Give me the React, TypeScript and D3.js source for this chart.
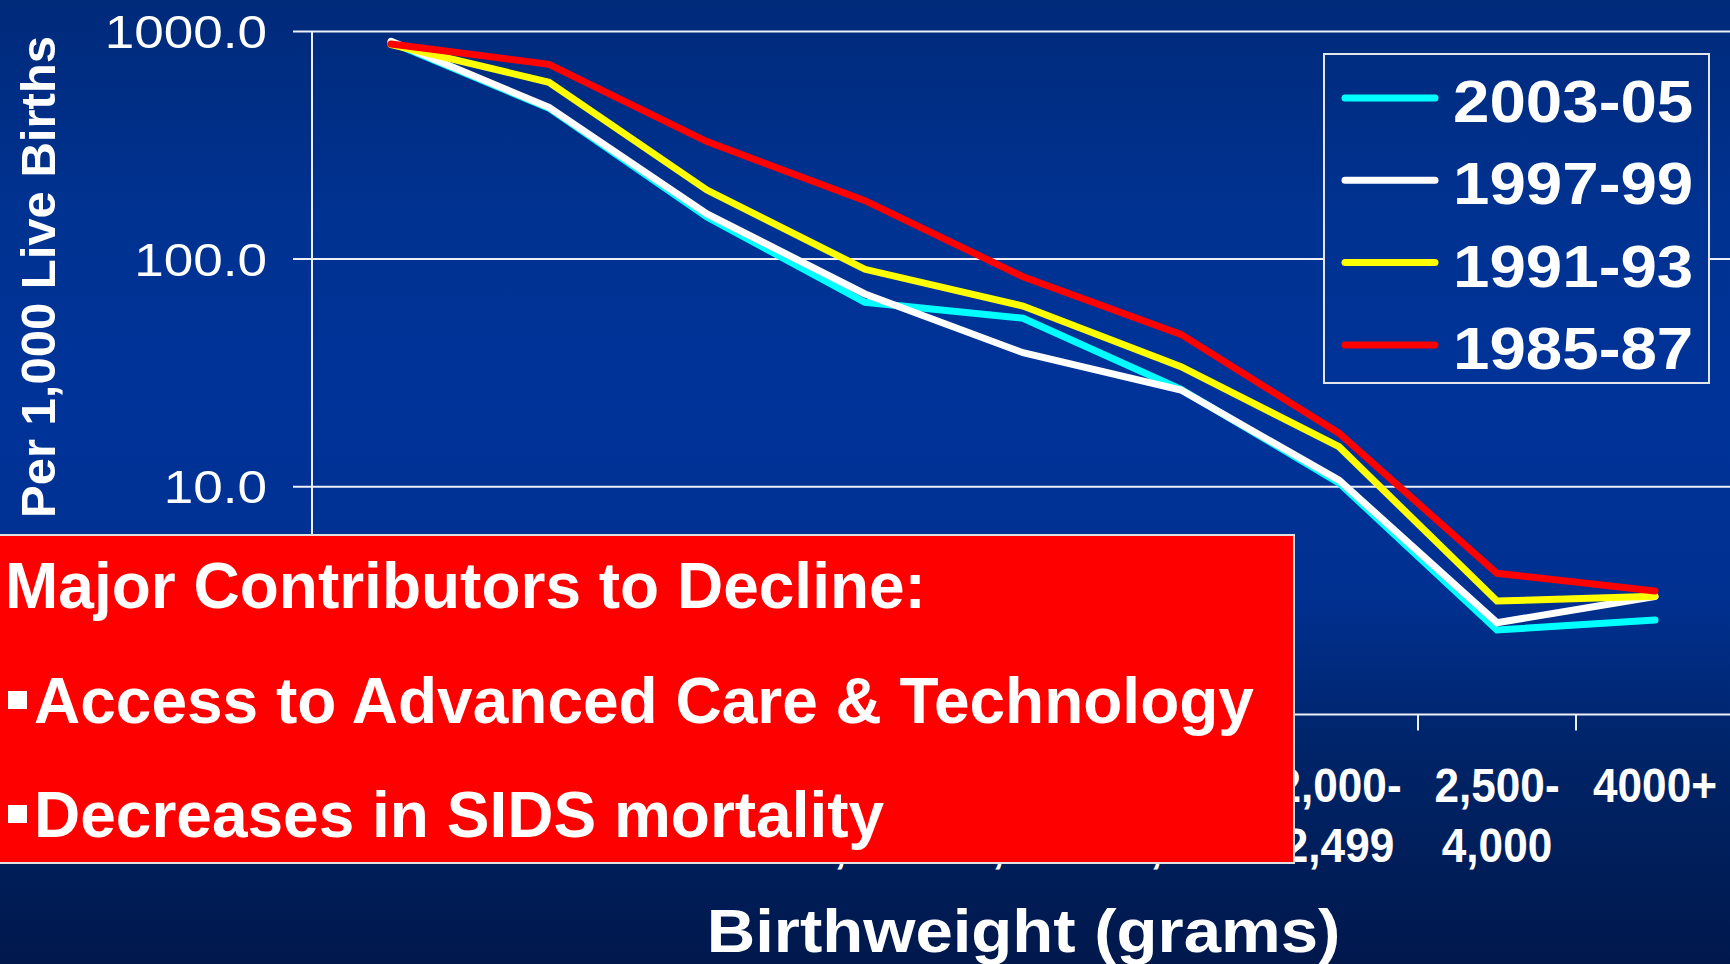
import React from "react";
import * as d3 from "d3";

const categories = [
  "<500",
  "500-\n749",
  "750-\n999",
  "1,000-\n1,249",
  "1,250-\n1,499",
  "1,500-\n1,999",
  "2,000-\n2,499",
  "2,500-\n4,000",
  "4000+",
];

const seriesNames = ["2003-05", "1997-99", "1991-93", "1985-87"];
const seriesColors = ["#00ffff", "#ffffff", "#ffff00", "#ff0000"];

const values2003 = [895, 460, 153, 64.6, 55, 26.8, 10.4, 2.35, 2.6];
const values1997 = [905, 464, 158, 70.3, 38.8, 26.6, 10.7, 2.53, 3.3];
const values1991 = [875, 598, 201, 90.2, 62.2, 33.7, 15.0, 3.15, 3.31];
const values1985 = [880, 717, 328, 180.5, 83.7, 46.7, 17.2, 4.17, 3.49];

const yTicks = [1, 10, 100, 1000];
const yTickLabels = ["1.0", "10.0", "100.0", "1000.0"];

const boxTitle = "Major Contributors to Decline:";
const boxBullets = ["Access to Advanced Care & Technology", "Decreases in SIDS mortality"];

const xTitle = "Birthweight (grams)";
const yTitle = "Per 1,000 Live Births";

const W = 1730;
const H = 964;
const FONT = "'Liberation Sans', Arial, Helvetica, sans-serif";

export default function App() {
  const allSeries = [values2003, values1997, values1991, values1985];

  const x = d3.scaleBand<string>().domain(categories).range([312, 1734]).paddingInner(0).paddingOuter(0);
  const y = d3.scaleLog().domain([1, 1000]).range([714.5, 31.4]);
  const cx = (c: string) => (x(c) as number) + x.bandwidth() / 2;

  const line = d3
    .line<number>()
    .x((_, i) => cx(categories[i]))
    .y((v) => y(v));

  const boundaries = categories
    .map((c) => x(c) as number)
    .concat([(x(categories[categories.length - 1]) as number) + x.bandwidth()]);

  const plotLeft = 312;
  const gridColor = "#eef0f6";

  // draw order: cyan, white, yellow, red (red on top)
  const drawOrder = [0, 1, 2, 3];

  return (
    <svg
      width={W}
      height={H}
      viewBox={`0 0 ${W} ${H}`}
      style={{ position: "fixed", left: 0, top: 0, display: "block" }}
      fontFamily={FONT}
    >
      <defs>
        <linearGradient id="bg" gradientUnits="userSpaceOnUse" x1="0" y1="0" x2="0" y2={H}>
          <stop offset="0" stopColor="#002a7a" />
          <stop offset="0.22" stopColor="#003291" />
          <stop offset="0.42" stopColor="#003399" />
          <stop offset="0.62" stopColor="#003090" />
          <stop offset="0.78" stopColor="#002468" />
          <stop offset="1" stopColor="#00184c" />
        </linearGradient>
      </defs>
      <rect x={0} y={0} width={W} height={H} fill="url(#bg)" />

      {/* gridlines */}
      {yTicks
        .filter((t) => t > 1)
        .map((t) => (
          <line key={"g" + t} x1={293} x2={W} y1={y(t)} y2={y(t)} stroke={gridColor} strokeWidth={2} />
        ))}
      <line x1={293} x2={plotLeft} y1={y(1)} y2={y(1)} stroke={gridColor} strokeWidth={2} />
      {/* axes */}
      <line x1={plotLeft} x2={plotLeft} y1={y(1000)} y2={y(1)} stroke={gridColor} strokeWidth={2} />
      <line x1={plotLeft} x2={W} y1={y(1)} y2={y(1)} stroke={gridColor} strokeWidth={2} />
      {boundaries.map((b, i) => (
        <line key={"xt" + i} x1={b} x2={b} y1={y(1)} y2={y(1) + 16} stroke={gridColor} strokeWidth={2} />
      ))}

      {/* y tick labels */}
      {yTicks.map((t, i) => (
        <text
          key={"yl" + t}
          transform={`translate(267, ${y(t) + 16.5}) scale(1.13, 1)`}
          textAnchor="end"
          fontSize={47}
          fill="#ffffff"
        >
          {yTickLabels[i]}
        </text>
      ))}

      {/* y title */}
      <text
        transform={`translate(55, 277) rotate(-90)`}
        textAnchor="middle"
        fontSize={49}
        fontWeight="bold"
        fill="#ffffff"
      >
        {yTitle}
      </text>

      {/* x tick labels */}
      {categories.map((c) => {
        const lines = c.split("\n");
        return (
          <g key={"xl" + c} transform={`translate(${cx(c)}, 0)`}>
            {lines.map((ln, j) => (
              <text
                key={j}
                transform={`translate(0, ${802 + j * 60}) scale(0.92, 1)`}
                textAnchor="middle"
                fontSize={48}
                fontWeight="bold"
                fill="#ffffff"
              >
                {ln}
              </text>
            ))}
          </g>
        );
      })}

      {/* x title */}
      <text
        transform={`translate(1023.5, 952) scale(1.1, 1)`}
        textAnchor="middle"
        fontSize={61}
        fontWeight="bold"
        fill="#ffffff"
      >
        {xTitle}
      </text>

      {/* series lines */}
      {drawOrder.map((si) => (
        <path
          key={"s" + si}
          d={line(allSeries[si]) || ""}
          fill="none"
          stroke={seriesColors[si]}
          strokeWidth={7}
          strokeLinecap="round"
          strokeLinejoin="miter"
        />
      ))}

      {/* legend */}
      <rect x={1324} y={54} width={385} height={329} fill="url(#bg)" stroke="#e4e6ee" strokeWidth={2} />
      {seriesNames.map((name, i) => {
        const cy = 98 + i * 82.3;
        return (
          <g key={"lg" + name}>
            <line x1={1345} x2={1435} y1={cy} y2={cy} stroke={seriesColors[i]} strokeWidth={7} strokeLinecap="round" />
            <text
              transform={`translate(1453, ${cy + 24}) scale(1.11, 1)`}
              fontSize={59}
              fontWeight="bold"
              fill="#ffffff"
            >
              {name}
            </text>
          </g>
        );
      })}

      {/* red annotation box */}
      <rect x={-2} y={535} width={1296} height={328} fill="#ff0000" stroke="#e0e0e0" strokeWidth={2} />
      <text x={5} y={608} fontSize={64} fontWeight="bold" fill="#ffffff">
        {boxTitle}
      </text>
      {boxBullets.map((b, i) => {
        const base = 723 + i * 114;
        return (
          <g key={"bb" + i}>
            <rect x={8} y={base - 32} width={19} height={18} fill="#ffffff" />
            <text x={34} y={base} fontSize={64} fontWeight="bold" fill="#ffffff">
              {b}
            </text>
          </g>
        );
      })}
    </svg>
  );
}
